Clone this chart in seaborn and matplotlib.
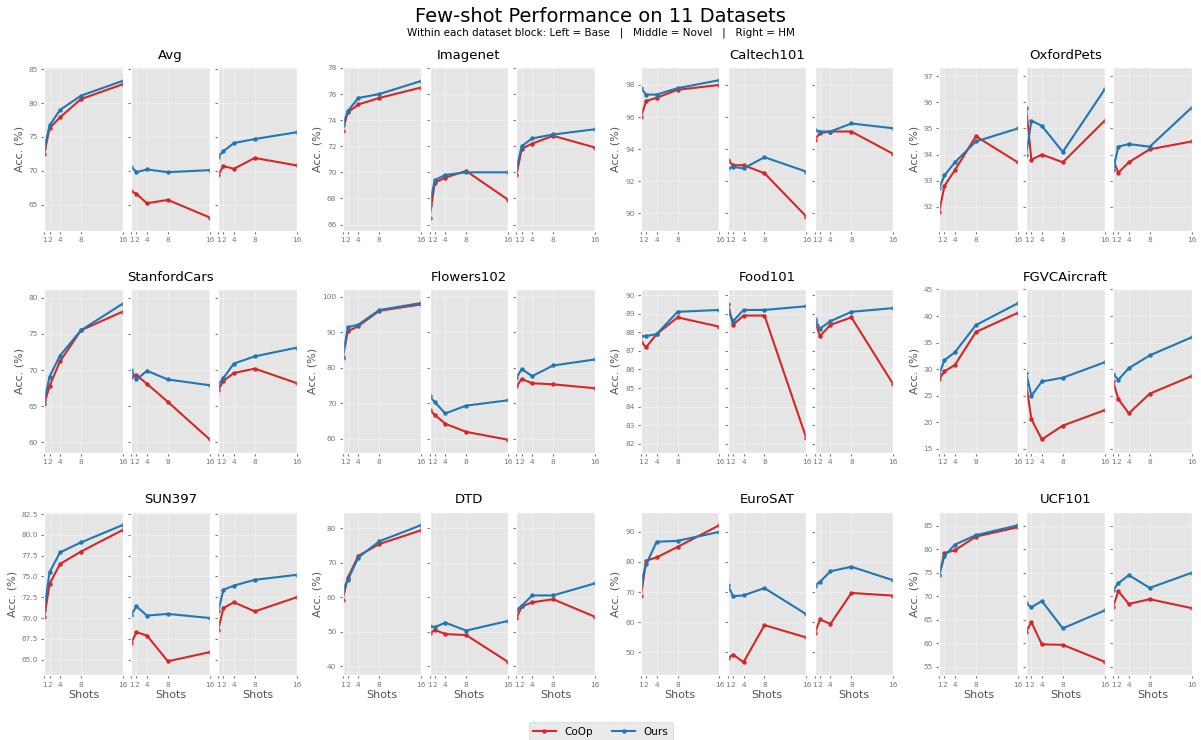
import matplotlib
matplotlib.use("Agg")
import numpy as np
import pandas as pd
import matplotlib.pyplot as plt
from matplotlib.lines import Line2D
from matplotlib.ticker import MaxNLocator
import seaborn as sns

# ---- data ----
SHOTS = [1, 2, 4, 8, 16]
DATASETS = ["Avg", "Imagenet", "Caltech101", "OxfordPets",
            "StanfordCars", "Flowers102", "Food101", "FGVCAircraft",
            "SUN397", "DTD", "EuroSAT", "UCF101"]
METRICS = ["Base", "Novel", "HM"]
METHODS = ["CoOp", "Ours"]

coop_base = [
    [72.5, 76.3, 77.9, 80.6, 82.8],
    [73.2, 74.6, 75.2, 75.7, 76.5],
    [96.0, 97.0, 97.2, 97.7, 98.0],
    [91.8, 92.8, 93.4, 94.7, 93.7],
    [65.3, 67.8, 71.2, 75.5, 78.1],
    [82.6, 90.2, 91.7, 96.0, 97.8],
    [87.5, 87.2, 87.9, 88.8, 88.3],
    [28.1, 29.6, 30.8, 37.0, 40.6],
    [70.1, 74.1, 76.5, 78.0, 80.6],
    [59.2, 65.7, 72.0, 75.4, 79.4],
    [68.7, 80.4, 81.5, 85.0, 92.2],
    [74.6, 79.2, 79.8, 82.7, 84.7],
]
ours_base = [
    [73.3, 76.7, 79.0, 81.1, 83.3],
    [73.6, 74.7, 75.7, 76.0, 77.0],
    [97.8, 97.4, 97.4, 97.8, 98.3],
    [92.7, 93.2, 93.7, 94.5, 95.0],
    [65.7, 69.1, 72.0, 75.5, 79.2],
    [83.1, 91.4, 92.1, 96.2, 98.2],
    [87.8, 87.8, 87.9, 89.1, 89.2],
    [29.1, 31.7, 33.2, 38.3, 42.4],
    [71.0, 75.5, 77.9, 79.1, 81.2],
    [62.1, 65.0, 71.5, 76.2, 80.9],
    [72.9, 79.2, 86.7, 87.0, 90.0],
    [74.5, 78.6, 81.0, 83.0, 85.1],
]
coop_novel = [
    [67.0, 66.6, 65.2, 65.7, 63.1],
    [66.5, 69.2, 69.6, 70.1, 67.9],
    [93.3, 93.0, 93.0, 92.5, 89.8],
    [95.8, 93.8, 94.0, 93.7, 95.3],
    [69.1, 69.3, 68.1, 65.6, 60.4],
    [68.1, 66.7, 64.2, 61.9, 59.7],
    [89.5, 88.4, 88.9, 88.9, 82.3],
    [27.3, 20.6, 16.8, 19.4, 22.3],
    [67.0, 68.3, 67.9, 64.8, 65.9],
    [49.5, 50.5, 49.3, 49.0, 41.2],
    [48.0, 49.2, 46.7, 59.0, 54.9],
    [62.5, 64.5, 59.8, 59.7, 56.1],
]
ours_novel = [
    [70.6, 69.8, 70.2, 69.8, 70.1],
    [67.5, 69.4, 69.8, 70.0, 70.0],
    [92.8, 92.9, 92.8, 93.5, 92.6],
    [94.0, 95.3, 95.1, 94.1, 96.5],
    [70.0, 68.7, 69.9, 68.7, 67.9],
    [71.9, 70.3, 67.1, 69.3, 70.8],
    [89.2, 88.6, 89.2, 89.2, 89.4],
    [29.3, 25.0, 27.7, 28.4, 31.3],
    [70.4, 71.4, 70.3, 70.5, 70.0],
    [51.5, 51.3, 52.6, 50.3, 53.1],
    [72.3, 68.6, 68.9, 71.3, 62.6],
    [68.5, 67.7, 69.0, 63.2, 67.0],
]
coop_hm = [
    [69.4, 70.7, 70.3, 71.9, 70.8],
    [69.8, 71.8, 72.2, 72.8, 71.9],
    [94.6, 95.0, 95.1, 95.1, 93.7],
    [93.8, 93.3, 93.7, 94.2, 94.5],
    [67.2, 68.5, 69.6, 70.2, 68.2],
    [74.7, 76.8, 75.6, 75.3, 74.2],
    [88.6, 87.8, 88.4, 88.8, 85.2],
    [27.7, 24.4, 21.7, 25.4, 28.7],
    [68.6, 71.2, 71.9, 70.8, 72.5],
    [53.9, 57.3, 58.5, 59.4, 54.3],
    [56.3, 60.9, 59.4, 69.7, 68.8],
    [67.8, 71.1, 68.4, 69.4, 67.5],
]
ours_hm = [
    [72.1, 72.9, 74.1, 74.7, 75.7],
    [70.3, 72.0, 72.6, 72.9, 73.3],
    [95.2, 95.1, 95.1, 95.6, 95.3],
    [93.4, 94.3, 94.4, 94.3, 95.8],
    [68.0, 68.9, 70.9, 71.9, 73.1],
    [77.1, 79.6, 77.6, 80.6, 82.3],
    [88.7, 88.2, 88.6, 89.1, 89.3],
    [29.1, 28.0, 30.2, 32.6, 36.0],
    [70.8, 73.4, 73.9, 74.6, 75.2],
    [56.3, 57.5, 60.5, 60.5, 64.0],
    [72.1, 73.4, 76.9, 78.4, 73.9],
    [71.3, 72.8, 74.5, 71.8, 75.0],
]

# y range of each dataset block (shared by its three panels)
YLIMS = [(61.1, 85.3), (65.5, 78.05), (88.9, 99.1), (91.06, 97.35),
         (58.5, 81.15), (55.9, 102.0), (81.5, 90.3), (14.2, 45.0),
         (63.1, 82.8), (37.3, 84.8), (42.3, 96.7), (53.2, 88.0)]

COLORS = {"CoOp": "#d62728", "Ours": "#1f77b4"}

# long-form table for seaborn
series = {("CoOp", "Base"): coop_base, ("Ours", "Base"): ours_base,
          ("CoOp", "Novel"): coop_novel, ("Ours", "Novel"): ours_novel,
          ("CoOp", "HM"): coop_hm, ("Ours", "HM"): ours_hm}
rows = []
for (method, metric), table in series.items():
    for name, vals in zip(DATASETS, table):
        for s, v in zip(SHOTS, vals):
            rows.append((name, metric, method, s, v))
df = pd.DataFrame(rows, columns=["dataset", "metric", "method", "shots", "acc"])

# ---- plotting ----
plt.style.use("ggplot")
fig = plt.figure(figsize=(12.01, 7.40), dpi=100)
outer = fig.add_gridspec(3, 4, left=44.3 / 1201, right=1191.6 / 1201,
                         top=1 - 67.3 / 740, bottom=1 - 675.4 / 740,
                         wspace=0.182, hspace=0.357)

for i, name in enumerate(DATASETS):
    r, c = divmod(i, 4)
    inner = outer[r, c].subgridspec(1, 3, wspace=0.107)
    first = fig.add_subplot(inner[0, 0])
    axes = [first] + [fig.add_subplot(inner[0, k], sharey=first) for k in (1, 2)]
    for k, (ax, metric) in enumerate(zip(axes, METRICS)):
        sub = df[(df.dataset == name) & (df.metric == metric)]
        sns.lineplot(data=sub, x="shots", y="acc", hue="method", hue_order=METHODS,
                     palette=COLORS, marker="o", markersize=3.2, markeredgewidth=0,
                     linewidth=1.5, legend=False, ax=ax)
        ax.set_xlim(1, 16)
        ax.set_xticks(SHOTS)
        ax.set_ylim(*YLIMS[i])
        ax.yaxis.set_major_locator(MaxNLocator(nbins=9, steps=[1, 2, 2.5, 5, 10]))
        ax.grid(True, color="white", alpha=0.35, linewidth=0.8)
        ax.tick_params(labelsize=5.3, length=2.5, pad=2, colors="#777777")
        ax.set_xlabel("Shots" if r == 2 else "", fontsize=8, color="#555555", labelpad=2)
        ax.set_ylabel("Acc. (%)" if k == 0 else "", fontsize=8, color="#555555", labelpad=3)
        if k > 0:
            ax.tick_params(labelleft=False)
    axes[1].set_title(name, fontsize=9.5, color="black", pad=6)

fig.suptitle("Few-shot Performance on 11 Datasets", fontsize=14, y=1 - 17 / 740, va="center")
fig.text(0.5, 1 - 33 / 740,
         "Within each dataset block: Left = Base   |   Middle = Novel   |   Right = HM",
         ha="center", va="center", fontsize=7.5)

handles = [Line2D([], [], color=COLORS[m], marker="o", markersize=3.2,
                  markeredgewidth=0, linewidth=1.5) for m in METHODS]
fig.legend(handles, METHODS, loc="lower center", ncol=2, fontsize=7.5,
           bbox_to_anchor=(0.5, -0.008), handlelength=2.2, columnspacing=1.9)

fig.savefig("out.png", dpi=100)
